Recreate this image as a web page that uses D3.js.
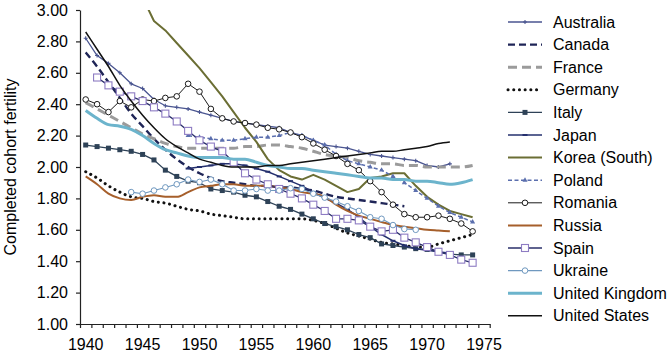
<!DOCTYPE html>
<html>
<head>
<meta charset="utf-8">
<title>Completed cohort fertility</title>
<script src="https://cdn.jsdelivr.net/npm/d3@7"></script>
<style>
  body { margin: 0; background: #fff; }
  text { font-family: "Liberation Sans", Arial, Helvetica, sans-serif; }
</style>
</head>
<body>
<div id="container"></div>
<script>

// Birth cohorts (category axis) and tick labels
const years = d3.range(1940, 1976);
const xTickLabels = [1940, 1945, 1950, 1955, 1960, 1965, 1970, 1975];
const yTickLabels = [1.00, 1.20, 1.40, 1.60, 1.80, 2.00, 2.20, 2.40, 2.60, 2.80, 3.00];

// Completed cohort fertility, one array per country, first value = first cohort
const australia = [2.82,2.71,2.66,2.60,2.53,2.50,2.43,2.39,2.38,2.37,2.35,2.33,2.31,2.29,2.28,2.27,2.26,2.25,2.22,2.20,2.17,2.14,2.13,2.12,2.10,2.08,2.07,2.06,2.05,2.04,2.01,2.00,2.02];
const canada = [2.73,2.64,2.54,2.44,2.34,2.26,2.18,2.11,2.05,2.00,1.96,1.93,1.91,1.90,1.89,1.88,1.88,1.87,1.87,1.86,1.85,1.83,1.81,1.80,1.79,1.78,1.77,1.76,1.75];
const france = [2.41,2.37,2.33,2.29,2.25,2.21,2.18,2.15,2.13,2.12,2.12,2.12,2.12,2.12,2.13,2.13,2.14,2.14,2.13,2.12,2.10,2.08,2.07,2.06,2.04,2.03,2.02,2.02,2.01,2.01,2.00,2.00,2.00,2.00,2.01];
const germany = [1.97,1.93,1.88,1.84,1.81,1.80,1.78,1.77,1.75,1.73,1.72,1.70,1.69,1.68,1.67,1.67,1.67,1.67,1.67,1.67,1.66,1.64,1.61,1.58,1.56,1.54,1.52,1.51,1.50,1.49,1.49,1.51,1.53,1.55,1.57];
const italy = [2.14,2.13,2.12,2.11,2.10,2.08,2.045,1.98,1.94,1.91,1.90,1.86,1.85,1.84,1.82,1.81,1.78,1.75,1.73,1.70,1.67,1.64,1.62,1.60,1.57,1.55,1.51,1.50,1.49,1.48,1.475,1.46,1.445,1.44,1.44];
const japan = [1.99,2.00,2.01,2.02,2.02,2.01,1.99,1.97,1.94,1.91,1.88,1.84,1.80,1.77,1.73,1.68,1.62,1.57,1.53,1.50,1.48,1.47,1.46,1.45];
const korea = [3.08,2.93,2.87,2.79,2.71,2.63,2.54,2.45,2.35,2.25,2.16,2.05,1.98,1.94,1.92,1.95,1.92,1.88,1.84,1.86,1.93,1.94,1.96,1.96,1.88,1.81,1.76,1.72,1.70,1.68];
const poland = [2.20,2.19,2.18,2.17,2.17,2.18,2.19,2.19,2.20,2.22,2.20,2.17,2.14,2.08,2.04,2.02,2.00,1.98,1.94,1.90,1.85,1.80,1.75,1.71,1.68,1.65];
const romania = [2.43,2.40,2.35,2.42,2.38,2.43,2.42,2.44,2.45,2.53,2.48,2.37,2.31,2.29,2.28,2.27,2.25,2.24,2.22,2.19,2.15,2.11,2.07,2.02,1.98,1.91,1.84,1.76,1.70,1.68,1.68,1.69,1.67,1.64,1.59];
const russia = [1.94,1.89,1.83,1.80,1.79,1.81,1.82,1.81,1.81,1.84,1.87,1.88,1.89,1.89,1.88,1.88,1.88,1.87,1.86,1.84,1.83,1.81,1.76,1.72,1.69,1.67,1.65,1.63,1.62,1.61,1.60,1.595,1.59];
const spain = [2.57,2.52,2.48,2.45,2.42,2.38,2.34,2.29,2.23,2.17,2.13,2.10,2.03,1.96,1.92,1.89,1.86,1.83,1.80,1.76,1.72,1.67,1.67,1.66,1.62,1.59,1.60,1.55,1.52,1.49,1.46,1.44,1.41,1.39];
const ukraine = [1.84,1.83,1.85,1.87,1.89,1.92,1.905,1.92,1.89,1.85,1.85,1.86,1.85,1.85,1.865,1.86,1.83,1.805,1.78,1.75,1.72,1.68,1.67,1.63,1.605,1.60];
const unitedKingdom = [2.36,2.31,2.27,2.26,2.24,2.20,2.15,2.11,2.09,2.07,2.06,2.06,2.06,2.05,2.05,2.03,2.01,2.00,1.99,1.99,1.98,1.97,1.96,1.95,1.94,1.93,1.93,1.92,1.92,1.91,1.91,1.90,1.89,1.90,1.92];
const unitedStates = [2.86,2.75,2.64,2.52,2.42,2.33,2.25,2.18,2.13,2.09,2.05,2.03,2.01,2.00,2.00,2.00,2.01,2.01,2.02,2.03,2.04,2.05,2.06,2.07,2.08,2.09,2.10,2.10,2.11,2.12,2.13,2.15,2.16];

const countries = ["Australia", "Canada", "France", "Germany", "Italy", "Japan", "Korea (South)",
                   "Poland", "Romania", "Russia", "Spain", "Ukraine", "United Kingdom", "United States"];
const seriesValues = [australia, canada, france, germany, italy, japan, korea,
                      poland, romania, russia, spain, ukraine, unitedKingdom, unitedStates];
const firstCohort = [1940, 1940, 1940, 1940, 1940, 1949, 1945, 1949, 1940, 1940, 1941, 1944, 1940, 1940];

// Look of each series (same order as countries)
const styles = [
    {color: "#4a5590", width: 1.3, dash: null,      marker: "plus",   smooth: false},
    {color: "#1f2557", width: 2.4, dash: "7 4",     marker: null,     smooth: true},
    {color: "#9b9b9b", width: 3,   dash: "9 5",     marker: null,     smooth: true},
    {color: "#111111", width: 3,   dash: "0.1 5.6", marker: null,     smooth: true, cap: "round"},
    {color: "#2e4257", width: 1.3, dash: null,      marker: "square", smooth: false},
    {color: "#25306e", width: 1.5, dash: null,      marker: "dash",   smooth: false},
    {color: "#6b6e34", width: 2,   dash: null,      marker: null,     smooth: false},
    {color: "#5b6fae", width: 1.5, dash: "4 2.5",   marker: "triangle", smooth: false},
    {color: "#1a1a1a", width: 1,   dash: null,      marker: "circle", smooth: false},
    {color: "#a65f2b", width: 2,   dash: null,      marker: null,     smooth: true},
    {color: "#2a2f6a", width: 1.3, dash: null,      marker: "openSquare", smooth: false},
    {color: "#6f98bf", width: 1.1, dash: null,      marker: "circle", smooth: false},
    {color: "#6cb4cc", width: 3,   dash: null,      marker: null,     smooth: true},
    {color: "#111111", width: 1.5, dash: null,      marker: null,     smooth: true}
];

const width = 671;
const height = 354;
const marginLeft = 80;
const plotRight = 489.7;
const marginTop = 10;
const plotBottom = 324;

const svg = d3.create("svg")
              .attr("width", width)
              .attr("height", height);

const x = d3.scaleBand()
            .domain(years)
            .range([marginLeft, plotRight]);
const xEdge = d3.scaleLinear()
                .domain([1940, 1976])
                .range([marginLeft, plotRight]);
const y = d3.scaleLinear()
            .domain([1, 3])
            .range([plotBottom, marginTop]);

const cx = yr => x(yr) + x.bandwidth() / 2;

svg.append("clipPath")
   .attr("id", "plot")
   .append("rect")
   .attr("x", marginLeft)
   .attr("y", marginTop)
   .attr("width", plotRight - marginLeft + 10)
   .attr("height", plotBottom - marginTop);

// Axes
const yAxis = svg.append("g")
    .attr("transform", `translate(${marginLeft},0)`)
    .call(d3.axisLeft(y).tickValues(yTickLabels).tickFormat(d3.format(".2f")).tickSize(4).tickSizeOuter(0));
yAxis.selectAll("text").attr("x", -12).style("font-size", "16px").attr("fill", "#000");

const xTicks = svg.append("g")
    .attr("transform", `translate(0,${plotBottom})`)
    .call(d3.axisBottom(xEdge).tickValues(d3.range(1940, 1977)).tickFormat("").tickSize(4).tickSizeOuter(0));

const xLabels = svg.append("g")
    .attr("transform", `translate(0,${plotBottom})`)
    .call(d3.axisBottom(x).tickValues(xTickLabels).tickSize(0));
xLabels.select(".domain").remove();
xLabels.selectAll("text").attr("y", 15).style("font-size", "16px").attr("fill", "#000");

svg.selectAll(".domain, .tick line").attr("stroke", "#222").attr("stroke-width", 1.2);

svg.append("text")
   .attr("transform", `translate(16,${(marginTop + plotBottom) / 2}) rotate(-90)`)
   .attr("text-anchor", "middle")
   .style("font-size", "16px")
   .text("Completed cohort fertility");

// Markers
function drawMarker(g, type, st, px, py) {
    if (type === "plus") {
        g.append("path").attr("d", `M${px - 2},${py}H${px + 2}M${px},${py - 2}V${py + 2}`)
         .attr("stroke", st.color).attr("stroke-width", 1.1);
    } else if (type === "square") {
        g.append("rect").attr("x", px - 2.5).attr("y", py - 2.5).attr("width", 5).attr("height", 5)
         .attr("fill", st.color);
    } else if (type === "dash") {
        g.append("rect").attr("x", px - 2.5).attr("y", py - 1).attr("width", 5).attr("height", 2)
         .attr("fill", st.color);
    } else if (type === "triangle") {
        g.append("path").attr("d", d3.symbol(d3.symbolTriangle, 11)())
         .attr("transform", `translate(${px},${py})`).attr("fill", st.color);
    } else if (type === "circle") {
        g.append("circle").attr("cx", px).attr("cy", py).attr("r", 2.8)
         .attr("fill", "#fff").attr("stroke", st.color).attr("stroke-width", 1);
    } else if (type === "openSquare") {
        g.append("rect").attr("x", px - 3.5).attr("y", py - 3.5).attr("width", 7).attr("height", 7)
         .attr("fill", "#fff").attr("stroke", "#8e7cc3").attr("stroke-width", 1.1);
    }
}

// Series
const plot = svg.append("g").attr("clip-path", "url(#plot)");

countries.forEach((name, i) => {
    const st = styles[i];
    const pts = seriesValues[i].map((v, k) => [firstCohort[i] + k, v]);
    const line = d3.line()
                   .x(d => cx(d[0]))
                   .y(d => y(d[1]))
                   .curve(st.smooth ? d3.curveMonotoneX : d3.curveLinear);
    const g = plot.append("g");
    g.append("path")
     .attr("d", line(pts))
     .attr("fill", "none")
     .attr("stroke", st.color)
     .attr("stroke-width", st.width)
     .attr("stroke-dasharray", st.dash)
     .attr("stroke-linecap", st.cap || "butt")
     .attr("stroke-linejoin", "round");
    if (st.marker) {
        pts.forEach(d => drawMarker(g, st.marker, st, cx(d[0]), y(d[1])));
    }
});

// Legend
const legend = svg.append("g").attr("transform", "translate(508,22)");
const rowH = 22.6;
countries.forEach((name, i) => {
    const st = styles[i];
    const row = legend.append("g").attr("transform", `translate(0,${i * rowH})`);
    row.append("line")
       .attr("x1", 0).attr("x2", 34)
       .attr("stroke", st.color)
       .attr("stroke-width", st.width)
       .attr("stroke-dasharray", st.dash)
       .attr("stroke-linecap", st.cap || "butt");
    if (st.marker) drawMarker(row, st.marker, st, 17, 0);
    row.append("text")
       .attr("x", 45)
       .attr("dy", "0.35em")
       .style("font-size", "16px")
       .text(name);
});

container.append(svg.node());

</script>
</body>
</html>
